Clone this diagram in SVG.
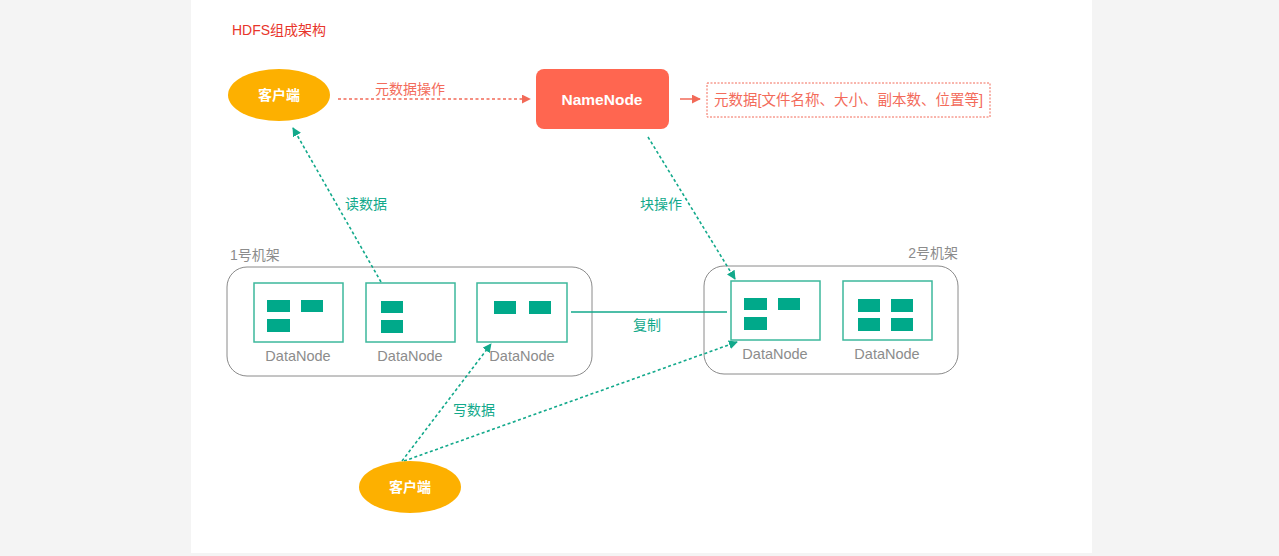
<svg xmlns="http://www.w3.org/2000/svg" width="1279" height="556" viewBox="0 0 1279 556">
<defs>
<style>
.t{font-family:"Liberation Sans","Noto Sans CJK SC",sans-serif;}
.dn{fill:#fff;stroke:#3db89c;stroke-width:1.5;}
.blk{fill:#00a98a;}
.dnl{font-size:14.5px;fill:#8c8c8c;text-anchor:middle;}
.rack{fill:#fff;stroke:#8a8a8a;stroke-width:1;}
.rl{font-size:14px;fill:#8c8c8c;}
.tl{fill:#12a98b;font-size:14px;}
.tc{stroke:#12a98b;stroke-width:1.6;fill:none;stroke-dasharray:3 2.5;}
</style>
<marker id="ag" viewBox="0 0 10 10" refX="9" refY="5" markerWidth="9" markerHeight="9" markerUnits="userSpaceOnUse" orient="auto"><path d="M0,0 L10,5 L0,10 z" fill="#12a98b"/></marker>
<marker id="ar" viewBox="0 0 10 10" refX="9" refY="5" markerWidth="9" markerHeight="9" markerUnits="userSpaceOnUse" orient="auto"><path d="M0,0 L10,5 L0,10 z" fill="#f26a58"/></marker>
</defs>
<rect x="0" y="0" width="1279" height="556" fill="#f4f4f4"/>
<rect x="191" y="0" width="901" height="553" fill="#ffffff"/>
<text class="t" x="232" y="35" font-size="14" fill="#e8352b">HDFS组成架构</text>

<g id="rack1">
<rect class="rack" x="227" y="267" width="365" height="109" rx="20"/>
<text class="t rl" x="230" y="260">1号机架</text>
</g>
<g id="rack2">
<rect class="rack" x="704" y="266" width="254" height="108" rx="20"/>
<text class="t rl" x="958" y="258" text-anchor="end">2号机架</text>
</g>

<g id="connectors">
<line x1="338" y1="99" x2="530" y2="99" stroke="#f26a58" stroke-width="1.5" stroke-dasharray="3 2.5" marker-end="url(#ar)"/>
<text class="t" x="375" y="94" font-size="14" fill="#f36b5b">元数据操作</text>
<line x1="680" y1="99" x2="700" y2="99" stroke="#f26a58" stroke-width="1.5" marker-end="url(#ar)"/>
<line class="tc" x1="381" y1="282" x2="293" y2="128" marker-end="url(#ag)"/>
<text class="t tl" x="345" y="209">读数据</text>
<line class="tc" x1="648" y1="137" x2="735" y2="279" marker-end="url(#ag)"/>
<text class="t tl" x="640" y="209">块操作</text>
<line x1="571" y1="312" x2="727" y2="312" stroke="#12a98b" stroke-width="1.5"/>
<text class="t tl" x="633" y="330">复制</text>
<line class="tc" x1="402" y1="461" x2="491" y2="344" marker-end="url(#ag)"/>
<line class="tc" x1="404" y1="461" x2="737" y2="342" marker-end="url(#ag)"/>
<text class="t tl" x="453" y="415">写数据</text>
</g>

<g id="client-top">
<ellipse cx="279" cy="95" rx="51" ry="26" fill="#fdb000"/>
<text class="t" x="279" y="100" font-size="14" font-weight="bold" fill="#fff" text-anchor="middle">客户端</text>
</g>
<g id="namenode">
<rect x="536" y="69" width="133" height="60" rx="8" fill="#ff6650"/>
<text class="t" x="602" y="105" font-size="15.5" font-weight="bold" fill="#fff" text-anchor="middle">NameNode</text>
</g>
<g id="metadata">
<rect x="707" y="83" width="283" height="34" fill="#fff" stroke="#f26a58" stroke-width="1" stroke-dasharray="2 1.5"/>
<text class="t" x="714" y="105" font-size="14.5" fill="#f36b5b">元数据[文件名称、大小、副本数、位置等]</text>
</g>

<g id="dn1">
<rect class="dn" x="254" y="283" width="89" height="59"/>
<rect class="blk" x="267" y="300" width="23" height="12"/>
<rect class="blk" x="301" y="300" width="22" height="12"/>
<rect class="blk" x="267" y="319" width="23" height="13"/>
<text class="t dnl" x="298" y="361">DataNode</text>
</g>
<g id="dn2">
<rect class="dn" x="366" y="283" width="89" height="59"/>
<rect class="blk" x="381" y="301" width="22" height="12"/>
<rect class="blk" x="381" y="320" width="22" height="13"/>
<text class="t dnl" x="410" y="361">DataNode</text>
</g>
<g id="dn3">
<rect class="dn" x="477" y="283" width="90" height="59"/>
<rect class="blk" x="494" y="301" width="22" height="13"/>
<rect class="blk" x="529" y="301" width="22" height="13"/>
<text class="t dnl" x="522" y="361">DataNode</text>
</g>
<g id="dn4">
<rect class="dn" x="731" y="281" width="89" height="59"/>
<rect class="blk" x="744" y="298" width="23" height="12"/>
<rect class="blk" x="778" y="298" width="22" height="12"/>
<rect class="blk" x="744" y="317" width="23" height="13"/>
<text class="t dnl" x="775" y="359">DataNode</text>
</g>
<g id="dn5">
<rect class="dn" x="843" y="281" width="89" height="59"/>
<rect class="blk" x="858" y="299" width="22" height="13"/>
<rect class="blk" x="891" y="299" width="22" height="13"/>
<rect class="blk" x="858" y="318" width="22" height="13"/>
<rect class="blk" x="891" y="318" width="22" height="13"/>
<text class="t dnl" x="887" y="359">DataNode</text>
</g>

<g id="client-bottom">
<ellipse cx="410" cy="487" rx="51" ry="26" fill="#fdb000"/>
<text class="t" x="410" y="492" font-size="14" font-weight="bold" fill="#fff" text-anchor="middle">客户端</text>
</g>
</svg>
